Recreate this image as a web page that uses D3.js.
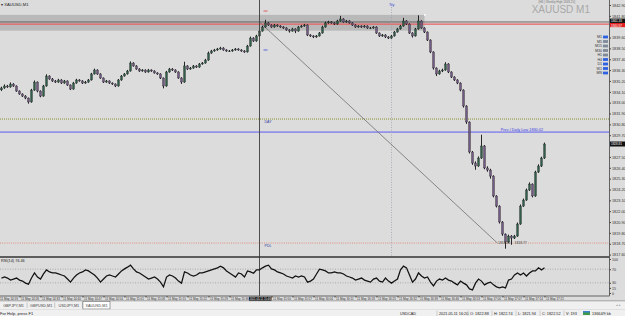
<!DOCTYPE html>
<html>
<head>
<meta charset="utf-8">
<script src="https://cdn.jsdelivr.net/npm/d3@7"></script>
<style>
  body { margin: 0; background: #f0f0f0; overflow: hidden; }
  svg { display: block; font-family: "Liberation Sans", Arial, sans-serif; }
</style>
</head>
<body>
<svg id="chart" width="625" height="316"></svg>
<script>
// XAUUSD M1 candles, one bar per minute
const close = [
  1834.49,1834.69,1834.59,1834.89,1834.69,1834.18,1833.88,1833.67,1833.47,1833.07,
  1834.28,1835.09,1834.18,1833.67,1834.69,1835.70,1835.40,1835.20,1835.09,1835.30,
  1834.99,1835.20,1834.79,1834.38,1834.99,1835.30,1835.20,1834.99,1835.09,1835.30,
  1835.91,1836.31,1835.91,1835.50,1835.09,1835.20,1834.99,1834.89,1834.69,1835.30,
  1835.70,1835.91,1836.21,1837.02,1836.72,1836.41,1836.21,1836.31,1836.11,1836.31,
  1836.21,1836.01,1835.91,1835.50,1834.69,1836.11,1836.41,1836.31,1836.11,1835.50,
  1835.09,1836.72,1836.41,1836.51,1836.72,1836.61,1836.92,1837.02,1837.32,1838.03,
  1838.24,1838.34,1838.44,1838.54,1838.34,1838.24,1838.24,1838.34,1838.44,1838.34,
  1838.24,1838.14,1838.74,1839.55,1839.25,1839.76,1840.26,1840.67,1841.08,1840.87,
  1840.67,1840.87,1840.77,1840.67,1840.57,1840.37,1840.26,1840.47,1840.26,1840.67,
  1840.77,1840.87,1839.86,1839.76,1839.66,1839.76,1840.06,1840.67,1841.08,1841.18,
  1841.08,1840.97,1841.28,1841.48,1841.18,1841.28,1841.08,1840.87,1840.67,1840.77,
  1840.67,1840.77,1840.57,1840.57,1840.67,1840.06,1839.76,1839.86,1839.66,1839.55,
  1839.76,1840.16,1840.47,1840.77,1841.28,1840.97,1840.06,1839.76,1840.47,1841.28,
  1840.57,1840.16,1839.35,1838.14,1836.51,1835.91,1836.21,1836.31,1836.92,1836.11,
  1835.60,1835.30,1834.99,1834.28,1832.66,1831.04,1828.00,1826.88,1826.58,1827.39,
  1828.61,1826.38,1826.17,1825.56,1823.54,1822.52,1820.90,1819.68,1818.87,1819.48,
  1819.28,1819.48,1820.70,1822.52,1823.13,1824.15,1824.75,1823.54,1825.97,1826.58,
  1827.39,1828.81
];
const high = [
  1834.62,1834.85,1834.80,1835.05,1834.98,1834.75,1834.25,1833.95,1833.76,1833.52,
  1834.40,1835.25,1835.15,1834.25,1834.80,1835.88,1835.78,1835.50,1835.30,1835.42,
  1835.38,1835.30,1835.26,1834.85,1835.10,1835.42,1835.38,1835.28,1835.20,1835.40,
  1836.02,1836.45,1836.38,1835.98,1835.56,1835.30,1835.26,1835.06,1834.95,1835.40,
  1835.80,1836.00,1836.32,1837.18,1837.10,1836.80,1836.50,1836.40,1836.38,1836.42,
  1836.38,1836.28,1836.08,1835.98,1835.56,1836.22,1836.52,1836.50,1836.38,1836.18,
  1835.58,1837.15,1836.80,1836.62,1836.82,1836.80,1837.02,1837.12,1837.44,1838.18,
  1838.35,1838.45,1838.55,1838.66,1838.62,1838.42,1838.34,1838.44,1838.54,1838.52,
  1838.42,1838.32,1838.86,1839.70,1839.64,1839.88,1840.38,1840.80,1841.40,1841.16,
  1840.95,1840.98,1840.95,1840.85,1840.75,1840.64,1840.45,1840.58,1840.54,1840.78,
  1840.88,1840.98,1840.94,1839.94,1839.84,1839.86,1840.16,1840.80,1841.22,1841.30,
  1841.26,1841.16,1841.40,1841.80,1841.56,1841.38,1841.36,1841.15,1840.95,1840.86,
  1840.85,1840.87,1840.84,1840.68,1840.76,1840.74,1840.12,1839.96,1839.94,1839.74,
  1839.86,1840.26,1840.58,1840.88,1841.60,1841.36,1841.04,1840.14,1840.58,1841.85,
  1841.36,1840.64,1840.22,1839.42,1838.20,1836.58,1836.34,1836.45,1837.10,1837.00,
  1836.18,1835.68,1835.38,1835.06,1834.35,1832.74,1831.10,1828.10,1827.05,1827.55,
  1829.75,1828.70,1826.55,1826.30,1825.64,1823.62,1822.60,1821.00,1819.75,1819.62,
  1819.58,1819.60,1820.85,1822.68,1823.28,1824.30,1824.92,1824.82,1826.10,1826.75,
  1827.52,1828.95
];
const low = [
  1834.18,1834.40,1834.50,1834.52,1834.60,1834.10,1833.80,1833.58,1833.35,1832.90,
  1833.00,1834.20,1834.05,1833.55,1833.60,1834.62,1835.32,1835.10,1835.00,1835.02,
  1834.90,1834.92,1834.70,1834.28,1834.32,1834.92,1835.12,1834.90,1834.92,1835.02,
  1835.24,1835.85,1835.82,1835.42,1835.00,1835.02,1834.90,1834.80,1834.58,1834.62,
  1835.22,1835.64,1835.84,1836.15,1836.64,1836.33,1836.12,1836.14,1836.02,1836.05,
  1836.12,1835.94,1835.82,1835.40,1834.45,1834.62,1836.04,1836.22,1836.02,1835.42,
  1834.90,1835.02,1836.32,1836.34,1836.44,1836.52,1836.54,1836.85,1836.95,1837.25,
  1837.96,1838.16,1838.26,1838.36,1838.26,1838.15,1838.14,1838.16,1838.27,1838.26,
  1838.15,1838.05,1838.08,1838.68,1839.16,1839.18,1839.70,1840.20,1840.60,1840.78,
  1840.58,1840.60,1840.68,1840.58,1840.48,1840.28,1840.10,1840.20,1840.05,1840.20,
  1840.60,1840.70,1839.75,1839.66,1839.55,1839.58,1839.70,1840.00,1840.60,1841.00,
  1841.00,1840.88,1840.90,1841.20,1841.10,1841.10,1841.00,1840.78,1840.58,1840.60,
  1840.58,1840.60,1840.48,1840.46,1840.50,1839.98,1839.66,1839.68,1839.55,1839.45,
  1839.48,1839.70,1840.10,1840.40,1840.70,1840.88,1839.96,1839.60,1839.70,1840.40,
  1840.48,1840.06,1839.25,1838.02,1836.35,1835.70,1835.84,1836.10,1836.24,1836.00,
  1835.50,1835.20,1834.88,1834.15,1832.50,1830.85,1827.85,1826.70,1826.20,1826.50,
  1827.30,1826.25,1826.00,1825.30,1823.40,1822.38,1820.75,1819.50,1818.20,1818.78,
  1818.60,1819.18,1819.40,1820.62,1822.44,1823.05,1824.05,1823.40,1823.46,1825.88,
  1826.48,1827.30
];
const firstOpen = 1834.30;

// RSI sub-window values, one per bar
const rsi = [
  44,47,44,38,41,44,38,35,29,26,
  44,59,47,41,56,68,62,59,59,56,
  53,50,41,32,44,53,59,62,68,65,
  59,53,44,32,41,50,53,50,47,56,
  65,71,76,82,71,62,59,53,47,41,
  44,47,41,32,18,47,53,50,44,35,
  29,62,59,53,50,53,59,59,62,65,
  68,71,74,79,74,65,59,53,47,59,
  56,47,65,62,58,68,68,74,79,82,
  71,68,62,59,56,50,47,44,50,47,
  50,47,32,35,41,56,70,68,65,59,
  59,62,59,59,56,50,47,44,38,41,
  44,38,35,32,41,44,35,32,44,35,
  29,35,41,68,79,74,53,32,41,59,
  50,44,47,32,21,35,41,38,44,38,
  35,29,24,35,29,24,12,9,29,41,
  35,24,29,32,24,18,15,18,15,38,
  41,53,59,53,59,50,59,65,65,74,
  68,74.46
];

const priceTicks = [1842.90,1841.80,1840.70,1839.60,1838.50,1837.40,1836.30,1835.20,1834.10,
  1833.00,1831.90,1830.80,1829.70,1828.60,1827.50,1826.40,1825.30,1824.20,1823.10,1822.00,
  1820.90,1819.80,1818.70,1817.60];
const rsiTicks = [100, 70, 30, 15, 0];
const rsiLevels = [70, 30];

// time scale labels: one every 7 bars
const timeTickBars = [-1,6,13,20,27,34,41,48,55,62,69,76,83,90,97,104,111,118,125,132,139,146,153,160,167,174,181];
const timeLabels = ["11 May 14:19","11 May 14:26","11 May 14:33","11 May 14:40","11 May 14:47",
  "11 May 14:54","11 May 15:01","11 May 15:08","11 May 15:15","11 May 15:22","11 May 15:29",
  "11 May 15:36","11 May 15:43","11 May 15:50","11 May 15:57","11 May 16:04","11 May 16:11",
  "11 May 16:18","11 May 16:25","11 May 16:32","11 May 16:39","11 May 16:46","11 May 16:53",
  "11 May 17:00","11 May 17:07","11 May 17:14","11 May 17:21"];

// objects on the chart (bar index / price)
const zone = {from: -1, to: 141, top: 1841.90, bottom: 1840.30};
const lineLevel = 1841.18;
const redLevel = 1840.97;
const dayLevel = 1831.34;
const prevDayLow = 1830.02;
const lowLevel = 1818.77;
const markRed = 1842.29, markBlue = 1838.34;
const vBar = 86, nyBar = 130;
const vBarTime = "2021.05.11 15:46";
const trend = [[86, 1841.18], [165.3, 1818.77]];

const timeframes = ["M1","M5","M15","M30","H1","H4","D1","W1","MN"];
const tfOn = ["M1","H4","D1","W1","MN"];

const tabs = ["GBPJPY,M1","GBPUSD,M1","USDJPY,M1","XAUUSD,M1"];
const statusItems = ["USDCAD","2021.05.11 16:20","O: 1822.88","H: 1822.74","L: 1821.94","C: 1822.52","V: 193"];

// ---------------------------------------------------------------
const svg = d3.select("#chart");
const axisX = 609.5, mainBottom = 256.5, rsiTop = 258, rsiBottom = 296;
const bg = "#dcdcdc";

const open = close.map((c, i) => i === 0 ? firstOpen : close[i - 1]);
const lastClose = close[close.length - 1];

const x = d3.scaleLinear().domain([0, 203]).range([1.5, 610.5]);
const y = d3.scaleLinear().domain([1817.60, 1842.90]).range([254.6, 5]);
const yr = d3.scaleLinear().domain([0, 100]).range([293, 259]);

svg.append("rect").attr("width", 625).attr("height", 301).attr("fill", bg);

const defs = svg.append("defs");
defs.append("clipPath").attr("id", "cm").append("rect")
  .attr("x", 0).attr("y", 0).attr("width", axisX).attr("height", mainBottom);
defs.append("clipPath").attr("id", "cr").append("rect")
  .attr("x", 0).attr("y", rsiTop).attr("width", axisX).attr("height", rsiBottom - rsiTop);
defs.append("clipPath").attr("id", "ct").append("rect")
  .attr("x", 0).attr("y", rsiBottom).attr("width", 625).attr("height", 5);

const main = svg.append("g").attr("clip-path", "url(#cm)");

// zone rectangle
main.append("rect")
  .attr("x", x(zone.from) - 1.5).attr("y", y(zone.top))
  .attr("width", x(zone.to) - x(zone.from) + 1.5)
  .attr("height", y(zone.bottom) - y(zone.top))
  .attr("fill", "#b9b9b9");
main.append("rect").attr("x", x(zone.to) - 0.5).attr("y", y(zone.top) - 0.8)
  .attr("width", 1.6).attr("height", 1.6).attr("fill", "#fff");

// horizontal levels
function hline(p, color, w, dash) {
  main.append("line").attr("x1", 0).attr("x2", axisX)
    .attr("y1", y(p)).attr("y2", y(p))
    .attr("stroke", color).attr("stroke-width", w)
    .attr("stroke-dasharray", dash || null);
}
hline(dayLevel, "#8a8f2a", 1, "1,1");
hline(prevDayLow, "#5b5bf0", 1);
hline(lowLevel, "#e07a6a", 0.8, "1,1.2");
hline(lineLevel, "#4a4a4a", 0.8);
hline(redLevel, "#e86060", 1.3);

// vertical dotted NY line
main.append("line").attr("x1", x(nyBar)).attr("x2", x(nyBar))
  .attr("y1", 7).attr("y2", mainBottom)
  .attr("stroke", "#9a9aa6").attr("stroke-width", 0.7).attr("stroke-dasharray", "1,1.5");

// trend line
main.append("line")
  .attr("x1", x(trend[0][0])).attr("y1", y(trend[0][1]))
  .attr("x2", x(trend[1][0])).attr("y2", y(trend[1][1]))
  .attr("stroke", "#6e6e6e").attr("stroke-width", 0.8);

// candles
const bars = d3.range(close.length);
main.selectAll("line.wick").data(bars).join("line")
  .attr("class", "wick")
  .attr("x1", i => x(i)).attr("x2", i => x(i))
  .attr("y1", i => y(high[i])).attr("y2", i => y(low[i]))
  .attr("stroke", "#111").attr("stroke-width", 0.9);
main.selectAll("rect.body").data(bars).join("rect")
  .attr("class", "body")
  .attr("x", i => x(i) - 0.9).attr("width", 1.8)
  .attr("y", i => y(Math.max(open[i], close[i])))
  .attr("height", i => Math.max(0.7, Math.abs(y(open[i]) - y(close[i]))))
  .attr("fill", i => close[i] >= open[i] ? "#2f5f4a" : "#735a86")
  .attr("stroke", "#151515").attr("stroke-width", 0.35);

// small markers and labels
const tiny = 4.2;
main.append("line").attr("x1", x(vBar + 2) - 2).attr("x2", x(vBar + 2) + 2)
  .attr("y1", y(markRed)).attr("y2", y(markRed)).attr("stroke", "#e05050").attr("stroke-width", 0.9);
main.append("line").attr("x1", x(vBar + 2) - 2).attr("x2", x(vBar + 2) + 2)
  .attr("y1", y(markBlue)).attr("y2", y(markBlue)).attr("stroke", "#4a5ae0").attr("stroke-width", 0.9);

function label(g, tx, ty, s, opts) {
  opts = opts || {};
  return g.append("text").attr("x", tx).attr("y", ty)
    .attr("font-size", opts.size || tiny)
    .attr("fill", opts.fill || "#333")
    .attr("text-anchor", opts.anchor || "start")
    .text(s);
}
label(main, x(vBar + 2) - 1, y(dayLevel) + 3.5, "DAY", {fill: "#3040a0", size: 3.6});
label(main, x(vBar + 2) - 1, y(lowLevel) + 4, "PDL", {fill: "#3040a0", size: 3.6});
label(main, x(nyBar) - 2, 6, "Ny", {fill: "#3a4ad0", size: 4});
label(main, x(165.5), y(lowLevel) + 1.3, "1818.20", {fill: "#444", size: 3.4});
label(main, x(171), y(lowLevel) + 1.3, "1818.77", {fill: "#444", size: 3.4});
label(main, 543, y(prevDayLow) - 0.8, "Prev / Daily Low " + prevDayLow.toFixed(2),
  {fill: "#3a3ae0", size: 3.8, anchor: "end"});

// top-left symbol and top-right watermark
label(svg, 1, 6, "\u25be XAUUSD,M1", {fill: "#222", size: 4.2});
label(svg, 590, 13, "XAUUSD M1", {fill: "#a8a8a8", size: 10, anchor: "end"});
label(svg, 575, 3.2, "[H4 | Weekly High 1843.25]", {fill: "#777", size: 3, anchor: "end"});

// timeframe legend
const tfY = d3.scalePoint().domain(timeframes).range([37, 73]);
timeframes.forEach(tf => {
  label(svg, 602, tfY(tf) + 1.4, tf, {fill: "#333", size: 3.6, anchor: "end"});
  svg.append("rect").attr("x", 603).attr("y", tfY(tf) - 1.4).attr("width", 5).attr("height", 2.8)
    .attr("fill", tfOn.includes(tf) ? "#2f62e0" : "#7f8a99");
});

// vertical line over both panels
svg.append("line").attr("x1", x(vBar)).attr("x2", x(vBar))
  .attr("y1", 0).attr("y2", rsiBottom)
  .attr("stroke", "#3c3c3c").attr("stroke-width", 0.9);

// ---- RSI window
const sub = svg.append("g").attr("clip-path", "url(#cr)");
rsiLevels.forEach(v => {
  sub.append("line").attr("x1", 0).attr("x2", axisX).attr("y1", yr(v)).attr("y2", yr(v))
    .attr("stroke", "#8c8c8c").attr("stroke-width", 0.6).attr("stroke-dasharray", "1,1.5");
});
sub.append("path").datum(rsi)
  .attr("fill", "none").attr("stroke", "#111").attr("stroke-width", 1.25)
  .attr("d", d3.line().x((d, i) => x(i)).y(d => yr(d)));
label(svg, 1, 262, "RSI(14) " + rsi[rsi.length - 1].toFixed(2), {fill: "#222", size: 3.8});

// panel borders
svg.append("line").attr("x1", 0).attr("x2", axisX).attr("y1", mainBottom + 0.5).attr("y2", mainBottom + 0.5)
  .attr("stroke", "#333").attr("stroke-width", 1.5);
svg.append("line").attr("x1", 0).attr("x2", axisX).attr("y1", rsiBottom).attr("y2", rsiBottom)
  .attr("stroke", "#444").attr("stroke-width", 0.8);
svg.append("line").attr("x1", axisX).attr("x2", axisX).attr("y1", 0).attr("y2", rsiBottom)
  .attr("stroke", "#444").attr("stroke-width", 0.8);

// price axis: labels that sit under a price box are covered, as in the terminal
const boxPrices = [redLevel, lineLevel, lastClose];
const freeTicks = priceTicks.filter(p => boxPrices.every(b => Math.abs(y(p) - y(b)) > 4.6));
const pAxis = svg.append("g").attr("transform", `translate(${axisX},0)`)
  .call(d3.axisRight(y).tickValues(freeTicks).tickFormat(d3.format(".2f")).tickSize(1.5).tickPadding(1));
pAxis.select(".domain").remove();
pAxis.selectAll("line").attr("stroke", "#444");
pAxis.selectAll("text").attr("font-size", 3.8).attr("fill", "#333").attr("font-family", "Liberation Sans");

const rAxis = svg.append("g").attr("transform", `translate(${axisX},0)`)
  .call(d3.axisRight(yr).tickValues(rsiTicks).tickSize(1.5).tickPadding(1));
rAxis.select(".domain").remove();
rAxis.selectAll("line").attr("stroke", "#444");
rAxis.selectAll("text").attr("font-size", 3.6).attr("fill", "#333").attr("font-family", "Liberation Sans");

// price boxes on the axis (the two upper ones are stacked)
function priceBox(p, fill, top, h, base) {
  svg.append("rect").attr("x", axisX + 0.5).attr("y", top).attr("width", 15).attr("height", h).attr("fill", fill);
  label(svg, axisX + 1.5, base, p.toFixed(2), {fill: "#fff", size: 3});
}
priceBox(redLevel, "#e02020", y(redLevel) - 1.2, 4.3, y(redLevel) + 2.5);
priceBox(lineLevel, "#111", y(lineLevel) - 3.4, 4.4, y(lineLevel) + 0.2);
priceBox(lastClose, "#111", y(lastClose) - 2.5, 5, y(lastClose) + 1.1);

// time axis: the label under the vertical line's time box is covered
const freeTimes = timeTickBars.map((b, i) => [b, timeLabels[i]])
  .filter(d => d[0] < vBar - 5 || d[0] > vBar + 3);
const tAxis = svg.append("g").attr("transform", `translate(0,${rsiBottom})`).attr("clip-path", "url(#ct)")
  .call(d3.axisBottom(x).tickValues(freeTimes.map(d => d[0])).tickSize(1.5).tickPadding(0.5)
    .tickFormat((d, i) => freeTimes[i][1]));
tAxis.attr("clip-path", null);
tAxis.select(".domain").remove();
tAxis.selectAll("line").attr("stroke", "#444");
tAxis.selectAll("text").attr("font-size", 3).attr("fill", "#333")
  .attr("text-anchor", "start").attr("dx", 1).attr("dy", "0.6em").attr("font-family", "Liberation Sans");

svg.append("rect").attr("x", x(vBar) - 10.5).attr("y", rsiBottom + 0.8).attr("width", 22.5).attr("height", 4).attr("fill", "#111");
label(svg, x(vBar) + 0.7, rsiBottom + 3.9, vBarTime, {fill: "#fff", size: 2.8, anchor: "middle"});

svg.append("line").attr("x1", 0).attr("x2", 625).attr("y1", 301).attr("y2", 301)
  .attr("stroke", "#7a7a7a").attr("stroke-width", 0.8);

// ---- tab bar and status bar
svg.append("rect").attr("x", 0).attr("y", 301.5).attr("width", 625).attr("height", 14.5).attr("fill", "#f0f0f0");
const tabX = d3.scaleBand().domain(tabs).range([0, 110]).paddingInner(0.02);
tabs.forEach((t, i) => {
  const active = i === tabs.length - 1;
  if (active) {
    svg.append("rect").attr("x", tabX(t)).attr("y", 301.5).attr("width", tabX.bandwidth()).attr("height", 7.5)
      .attr("fill", "#fff").attr("stroke", "#666").attr("stroke-width", 0.6);
  } else {
    svg.append("line").attr("x1", tabX(t) + tabX.bandwidth()).attr("x2", tabX(t) + tabX.bandwidth())
      .attr("y1", 302.5).attr("y2", 308).attr("stroke", "#999").attr("stroke-width", 0.5);
  }
  label(svg, tabX(t) + tabX.bandwidth() / 2, 307, t, {fill: "#444", size: 3.8, anchor: "middle"});
});
label(svg, 621, 305.5, "\u25c2 \u25b8", {fill: "#888", size: 3.4, anchor: "end"});
svg.append("line").attr("x1", 0).attr("x2", 625).attr("y1", 309.5).attr("y2", 309.5)
  .attr("stroke", "#d0d0d0").attr("stroke-width", 0.5);

label(svg, 0, 315, "For Help, press F1", {fill: "#222", size: 4});
const statusStarts = [400, 439, 470, 494, 518, 542, 566];
statusItems.forEach((s, i) => {
  const sx = statusStarts[i];
  label(svg, sx, 315, s, {fill: "#222", size: 3.8});
  if (i > 0) svg.append("line").attr("x1", sx - 2).attr("x2", sx - 2).attr("y1", 310.5).attr("y2", 316)
    .attr("stroke", "#aaa").attr("stroke-width", 0.5);
});
svg.append("rect").attr("x", 583).attr("y", 311).attr("width", 7).attr("height", 4).attr("fill", "#3d9a4a");
svg.append("rect").attr("x", 583).attr("y", 311).attr("width", 7).attr("height", 1.5).attr("fill", "#3f7fd0");
label(svg, 592, 315, "13664/9 kb", {fill: "#222", size: 3.8});
</script>
</body>
</html>
